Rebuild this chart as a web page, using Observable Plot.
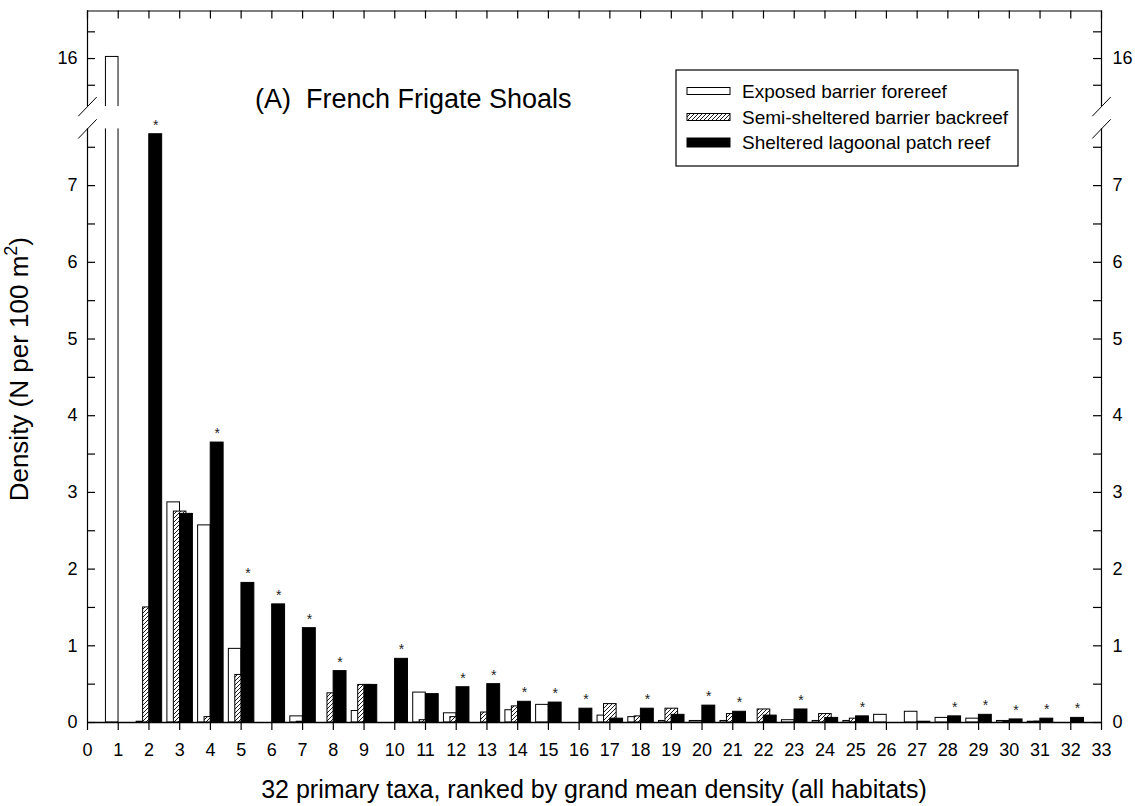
<!DOCTYPE html>
<html><head><meta charset="utf-8">
<script src="https://cdn.jsdelivr.net/npm/d3@7"></script>
<script src="https://cdn.jsdelivr.net/npm/@observablehq/plot@0.6"></script>
<style>body{margin:0;background:#fff;} svg{display:block}</style>
</head><body><div id="chart"></div>
<script>
// ---- data ----
const categories = [1,2,3,4,5,6,7,8,9,10,11,12,13,14,15,16,17,18,19,20,21,22,23,24,25,26,27,28,29,30,31,32];
const forereef = [16.03,0.01,2.87,2.57,0.96,0,0.08,0,0.15,0,0.39,0.12,0,0.16,0.23,0,0.09,0.07,0.02,0.02,0.02,0,0.03,0.02,0.02,0.10,0.14,0.06,0.05,0.02,0.01,0];
const backreef = [0,1.50,2.75,0.07,0.62,0,0.01,0.38,0.49,0,0.03,0.07,0.13,0.21,0,0,0.24,0.08,0.18,0,0.11,0.17,0,0.11,0.05,0,0,0,0,0.01,0.01,0];
const patchreef = [0,7.67,2.72,3.65,1.82,1.54,1.23,0.67,0.49,0.83,0.37,0.46,0.50,0.27,0.26,0.18,0.05,0.18,0.10,0.22,0.14,0.09,0.17,0.06,0.08,0,0.01,0.08,0.10,0.04,0.05,0.06];
const significant = [2,4,5,6,7,8,10,12,13,14,15,16,18,20,21,23,25,28,29,30,31,32];
const seriesNames = ["Exposed barrier forereef","Semi-sheltered barrier backreef","Sheltered lagoonal patch reef"];
const xTicks = [0,1,2,3,4,5,6,7,8,9,10,11,12,13,14,15,16,17,18,19,20,21,22,23,24,25,26,27,28,29,30,31,32,33];
const yMajor = [0,1,2,3,4,5,6,7,16];
const yMinor = [0.5,1.5,2.5,3.5,4.5,5.5,6.5,7.5,15.5,16.5];
const titleText = "(A)\u00a0 French Frigate Shoals";
const xLabel = "32 primary taxa, ranked by grand mean density (all habitats)";

// ---- broken axis mapping ----
const LOW_TOP = 7.74, GAP_HI = 8.03, UP_BOT = 15.1, UP_SCALE = 0.6965, UP_TOP = 16.89;
const disp = v => v <= LOW_TOP ? v : GAP_HI + (v - UP_BOT) * UP_SCALE;
const TOP = disp(UP_TOP);
const labelMap = new Map(yMajor.map(v => [disp(v), String(v)]));

const W = 1135, H = 806, ML = 87, MR = 34, MT = 10.5, MB = 84;
const FONT = "'Liberation Sans', Arial, Helvetica, sans-serif";

const rows = categories.map((c, i) => ({cat: c, f: forereef[i], b: backreef[i], p: patchreef[i]}));
const sigRows = rows.filter(r => significant.includes(r.cat));
const brokenRows = rows.filter(r => r.f > LOW_TOP);
const allTicks = yMajor.concat(yMinor).map(disp);
const xpx = 8 / ((W - ML - MR) / 33);   // 8px in x units
const ypx = 8 / ((H - MT - MB) / TOP);  // 8px in y units

const plot = Plot.plot({
  width: W, height: H,
  marginLeft: ML, marginRight: MR, marginTop: MT, marginBottom: MB,
  x: {domain: [0, 33], label: null},
  y: {domain: [0, TOP], label: null},
  style: {fontFamily: FONT, color: "black", background: "white", overflow: "visible"},
  marks: [
    // bars
    Plot.rect(rows, {x1: d => d.cat - 0.40, x2: d => d.cat + 0.01, y1: 0, y2: d => disp(d.f), fill: "white", stroke: "black", strokeWidth: 1}),
    Plot.rect(rows, {x1: d => d.cat - 0.19, x2: d => d.cat + 0.22, y1: 0, y2: d => disp(d.b), fill: "url(#hatch)", stroke: "black", strokeWidth: 1}),
    Plot.rect(rows, {x1: d => d.cat + 0.01, x2: d => d.cat + 0.43, y1: 0, y2: d => disp(d.p), fill: "black", stroke: "black", strokeWidth: 1}),
    // break mask on tall bar
    Plot.rect(brokenRows, {x1: d => d.cat - 0.5, x2: d => d.cat + 0.1, y1: LOW_TOP, y2: GAP_HI, fill: "white"}),
    // asterisks
    Plot.text(sigRows, {x: d => d.cat + 0.22, y: d => disp(d.p), text: () => "*", dy: -9, fontSize: 14, fill: "#222"}),
    // frame
    Plot.ruleY([0], {stroke: "black", strokeWidth: 1.6}),
    Plot.ruleY([TOP], {stroke: "black", strokeWidth: 1.2}),
    Plot.ruleX([0, 33], {y1: 0, y2: LOW_TOP, stroke: "black", strokeWidth: 1.2}),
    Plot.ruleX([0, 33], {y1: GAP_HI, y2: TOP, stroke: "black", strokeWidth: 1.2}),
    // break slashes
    Plot.link([0, 33].flatMap(x => [{x, y: LOW_TOP}, {x, y: GAP_HI}]), {
      x1: d => d.x - 0.3, x2: d => d.x + 0.3, y1: d => d.y - 0.125, y2: d => d.y + 0.125, stroke: "black", strokeWidth: 1
    }),
    // inward ticks
    Plot.ruleY(allTicks, {x1: 0, x2: xpx, stroke: "black", strokeWidth: 1.2}),
    Plot.ruleY(allTicks, {x1: 33 - xpx, x2: 33, stroke: "black", strokeWidth: 1.2}),
    Plot.ruleX(xTicks, {y1: TOP - ypx, y2: TOP, stroke: "black", strokeWidth: 1.2}),
    // axes
    Plot.axisX({anchor: "bottom", ticks: xTicks, tickFormat: d => String(d), tickSize: 8, tickPadding: 13, fontSize: 18, stroke: "black", strokeWidth: 1.2, label: null}),
    Plot.axisY({anchor: "left", ticks: yMajor.map(disp), tickFormat: d => labelMap.get(d), tickSize: 0, tickPadding: 10, fontSize: 18, label: null}),
    Plot.axisY({anchor: "right", ticks: yMajor.map(disp), tickFormat: d => labelMap.get(d), tickSize: 0, tickPadding: 11, fontSize: 18, label: null})
  ]
});

const svg = d3.select(plot);
const defs = svg.insert("defs", ":first-child");
const pat = defs.append("pattern").attr("id", "hatch").attr("patternUnits", "userSpaceOnUse").attr("width", 4).attr("height", 4);
pat.append("rect").attr("width", 4).attr("height", 4).attr("fill", "white");
pat.append("path").attr("d", "M-1,1 l2,-2 M0,4 l4,-4 M3,5 l2,-2").attr("stroke", "black").attr("stroke-width", 0.9);

// title
svg.append("text").attr("x", 255).attr("y", 108).attr("text-anchor", "start").attr("font-size", 27)
  .attr("font-family", FONT).attr("fill", "black").text(titleText);

// legend
const lg = svg.append("g").attr("font-family", FONT).attr("font-size", 19).attr("text-anchor", "start");
lg.append("rect").attr("x", 676).attr("y", 70).attr("width", 342).attr("height", 96).attr("fill", "white").attr("stroke", "black").attr("stroke-width", 1.2);
const legendY = [91, 117, 142.5];
const swFill = ["white", "url(#hatch)", "black"];
const swH = [7, 7, 9];
seriesNames.forEach((n, i) => {
  lg.append("rect").attr("x", 687).attr("y", legendY[i] - swH[i] / 2).attr("width", 43).attr("height", swH[i])
    .attr("fill", swFill[i]).attr("stroke", "black").attr("stroke-width", 1);
  lg.append("text").attr("x", 742).attr("y", legendY[i]).attr("dy", "0.35em").attr("text-anchor", "start").attr("fill", "black").text(n);
});

// y label
const yl = svg.append("text").attr("transform", "translate(27.5,237) rotate(-90)").attr("text-anchor", "end")
  .attr("font-size", 26).attr("font-family", FONT).attr("fill", "black");
yl.append("tspan").text("Density (N per 100 m");
yl.append("tspan").attr("font-size", 18).attr("dy", -11).text("2");
yl.append("tspan").attr("dy", 11).text(")");

// x label
svg.append("text").attr("x", (ML + W - MR) / 2).attr("y", 798).attr("text-anchor", "middle")
  .attr("font-size", 25).attr("font-family", FONT).attr("fill", "black").text(xLabel);

document.getElementById("chart").appendChild(plot);
</script>
</body></html>
